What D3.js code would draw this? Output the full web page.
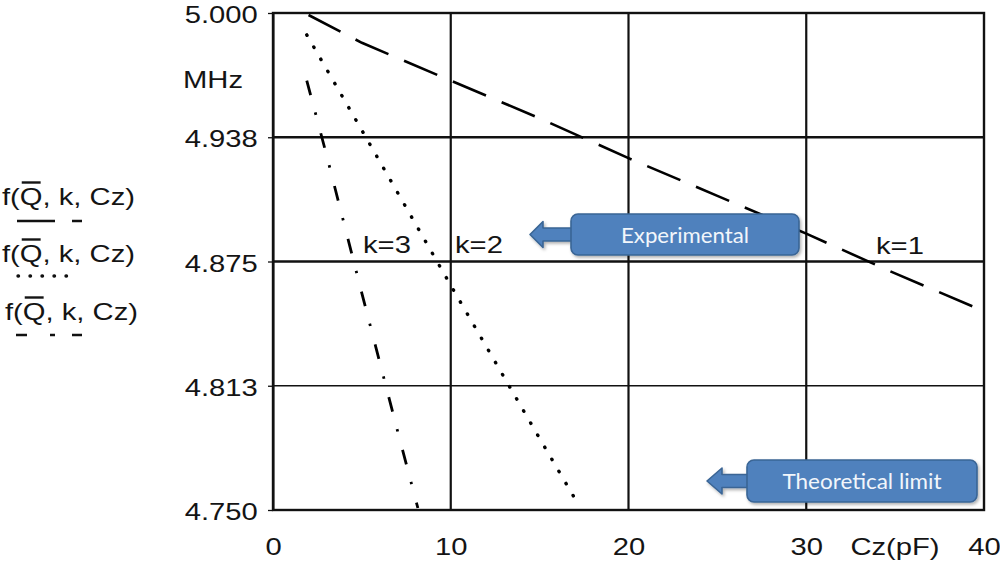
<!DOCTYPE html>
<html>
<head>
<meta charset="utf-8">
<script src="https://cdn.jsdelivr.net/npm/d3@7"></script>
<style>
  body { margin: 0; background: #fff; }
  svg text { font-family: "Liberation Sans", Arial, sans-serif; fill: #141414; }
</style>
</head>
<body>
<svg id="chart" width="1000" height="564"></svg>
<script>
// values: capacitance Cz (pF) -> frequency (MHz)
var czK1 = [2, 5, 10, 15, 20, 25, 30, 35, 40];
var fK1  = [4.999, 4.985, 4.966, 4.947, 4.927, 4.908, 4.889, 4.869, 4.850];
var czK2 = [1.9, 5, 10, 15, 17.1];
var fK2  = [4.989, 4.941, 4.863, 4.786, 4.754];
var czK3 = [1.9, 3, 5, 7, 8.15];
var fK3  = [4.966, 4.929, 4.859, 4.790, 4.751];

var xTicks = [0, 10, 20, 30, 40];
var yTicks = [4.75, 4.8125, 4.875, 4.9375, 5.0];
var yTickLabels = ["4.750", "4.813", "4.875", "4.938", "5.000"];
var seriesNames = ["k=1", "k=2", "k=3"];

// the original picture is stretched sideways, so is the text
var SX = 1.27;

var svg = d3.select("#chart");
var plotLeft = 273, plotRight = 984, plotTop = 13, plotBottom = 510;

var x = d3.scaleLinear().domain([0, 40]).range([plotLeft, plotRight]);
var y = d3.scaleLinear().domain([4.75, 5.0]).range([plotBottom, plotTop]);

function stretched(sel, px, py, str, anchor, size) {
    return sel.append("text")
        .attr("transform", "translate(" + px + "," + py + ") scale(" + SX + ",1)")
        .attr("text-anchor", anchor || "start")
        .style("font-size", (size || 23) + "px")
        .text(str);
}

// ------------------------------
// grid
// ------------------------------
var grid = svg.append("g");
grid.selectAll(".vgrid")
    .data(xTicks.slice(1, -1))
  .enter().append("line")
    .attr("x1", function(d){return x(d)}).attr("x2", function(d){return x(d)})
    .attr("y1", plotTop).attr("y2", plotBottom)
    .attr("stroke", "#111").attr("stroke-width", 2.2);

grid.selectAll(".hgrid")
    .data(yTicks.slice(1, -1))
  .enter().append("line")
    .attr("x1", plotLeft).attr("x2", plotRight)
    .attr("y1", function(d){return y(d)}).attr("y2", function(d){return y(d)})
    .attr("stroke", "#111")
    .attr("stroke-width", function(d){return d == 4.8125 ? 1.3 : 2.4});

grid.append("rect")
    .attr("x", plotLeft).attr("y", plotTop)
    .attr("width", plotRight - plotLeft).attr("height", plotBottom - plotTop)
    .attr("fill", "none").attr("stroke", "#111").attr("stroke-width", 2.4);

// ------------------------------
// axes
// ------------------------------
var yAxis = svg.append("g")
    .attr("transform", "translate(" + plotLeft + ",0)")
    .call(d3.axisLeft(y).tickValues(yTicks).tickSizeInner(5).tickSizeOuter(0)
        .tickFormat(function(d, i){return yTickLabels[i]}));
yAxis.select(".domain").attr("stroke", "#111").attr("stroke-width", 2);
yAxis.selectAll(".tick line").attr("stroke", "#111").attr("stroke-width", 1.3);
yAxis.selectAll(".tick text")
    .attr("x", -12).attr("y", 9.5).attr("dy", null)
    .attr("transform", "scale(" + SX + ",1)")
    .style("font-size", "23px")
    .style("font-family", "'Liberation Sans', Arial, sans-serif")
    .attr("fill", "#141414");

var xAxis = svg.append("g")
    .attr("transform", "translate(0," + plotBottom + ")")
    .call(d3.axisBottom(x).tickValues(xTicks).tickSize(0).tickFormat(d3.format("d")));
xAxis.select(".domain").remove();
xAxis.selectAll(".tick text")
    .attr("y", 45).attr("dy", null)
    .attr("transform", "scale(" + SX + ",1)")
    .style("font-size", "23px")
    .style("font-family", "'Liberation Sans', Arial, sans-serif")
    .attr("fill", "#141414");

stretched(svg, 183, 88, "MHz", "start");
stretched(svg, 895, 555, "Cz(pF)", "middle");

// ------------------------------
// series
// ------------------------------
var line = d3.line()
    .x(function(d){return x(d[0])})
    .y(function(d){return y(d[1])});

var series = [
    {pts: d3.zip(czK1, fK1), dash: "36,17",        width: 2.6, cap: "butt"},
    {pts: d3.zip(czK2, fK2), dash: "0.5,13.5",     width: 3.4, cap: "round"},
    {pts: d3.zip(czK3, fK3), dash: "15,18,2.5,19", width: 2.8, cap: "butt"}
];

svg.append("g").selectAll("path")
    .data(series)
  .enter().append("path")
    .attr("d", function(d){return line(d.pts)})
    .attr("fill", "none")
    .attr("stroke", "#000")
    .attr("stroke-width", function(d){return d.width})
    .attr("stroke-linecap", function(d){return d.cap})
    .attr("stroke-dasharray", function(d){return d.dash});

// curve labels
stretched(svg, 876, 254, seriesNames[0], "start");
stretched(svg, 455, 253, seriesNames[1], "start");
stretched(svg, 363, 253, seriesNames[2], "start");

// ------------------------------
// legend on the left: f(Q, k, Cz) with the line pattern drawn under it
// ------------------------------
var legendRows = [
    {x: 2, y: 205, under: 221, x1: 17, x2: 82, dash: "38,17,10",      w: 2.6, cap: "butt"},
    {x: 2, y: 262, under: 276, x1: 18, x2: 78, dash: "0.5,11.5",      w: 3.4, cap: "round"},
    {x: 5, y: 320, under: 335, x1: 16, x2: 82, dash: "11,23,5,17,10", w: 2.6, cap: "butt"}
];

legendRows.forEach(function(r) {
    var g = svg.append("g")
        .attr("transform", "translate(" + r.x + "," + r.y + ") scale(" + SX + ",1)");
    var t = g.append("text").style("font-size", "23px");
    var a = t.append("tspan").text("f(");
    var q = t.append("tspan").text("Q");
    t.append("tspan").text(", k, Cz)");
    var qx = a.node().getComputedTextLength();
    var qw = q.node().getComputedTextLength();
    g.append("line")
        .attr("x1", qx + 1.5).attr("x2", qx + qw - 1.5)
        .attr("y1", -22.5).attr("y2", -22.5)
        .attr("stroke", "#141414").attr("stroke-width", 2.4);

    svg.append("line")
        .attr("x1", r.x1).attr("x2", r.x2)
        .attr("y1", r.under).attr("y2", r.under)
        .attr("stroke", "#111")
        .attr("stroke-width", r.w)
        .attr("stroke-linecap", r.cap)
        .attr("stroke-dasharray", r.dash);
});

// ------------------------------
// callouts (arrow + rounded box)
// ------------------------------
var defs = svg.append("defs");
defs.append("filter").attr("id", "shadow").attr("x", "-10%").attr("y", "-20%")
    .attr("width", "130%").attr("height", "160%")
  .append("feDropShadow")
    .attr("dx", 1.5).attr("dy", 2).attr("stdDeviation", 1.6)
    .attr("flood-color", "#000").attr("flood-opacity", 0.3);

var callouts = [
    {text: "Experimental",      bx: 571, by: 214, bw: 228, bh: 41, tip: 530, head: 543, textLen: 128},
    {text: "Theoretical limit", bx: 747, by: 460, bw: 230, bh: 42, tip: 707, head: 722, textLen: 159}
];

callouts.forEach(function(c) {
    var g = svg.append("g").attr("filter", "url(#shadow)");
    var cy = c.by + c.bh / 2;
    var pts = [[c.tip, cy], [c.head, cy - 13], [c.head, cy - 6.5], [c.bx + 2, cy - 6.5],
               [c.bx + 2, cy + 6.5], [c.head, cy + 6.5], [c.head, cy + 13]];
    g.append("polygon")
        .attr("points", pts.map(function(p){return p.join(",")}).join(" "))
        .attr("fill", "#4f81bd").attr("stroke", "#3a6595").attr("stroke-width", 1.6)
        .attr("stroke-linejoin", "round");
    g.append("rect")
        .attr("x", c.bx).attr("y", c.by).attr("width", c.bw).attr("height", c.bh)
        .attr("rx", 7).attr("ry", 7)
        .attr("fill", "#4f81bd").attr("stroke", "#3a6595").attr("stroke-width", 1.6);
    svg.append("text")
        .attr("x", c.bx + c.bw / 2).attr("y", cy + 8)
        .attr("text-anchor", "middle")
        .attr("textLength", c.textLen).attr("lengthAdjust", "spacingAndGlyphs")
        .style("font-family", "Lato, 'Open Sans', sans-serif")
        .style("font-size", "21px")
        .style("fill", "#f2f6fb")
        .text(c.text);
});
</script>
</body>
</html>
